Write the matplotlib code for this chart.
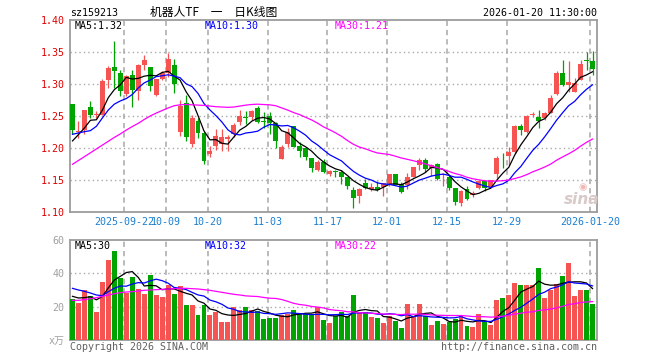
import matplotlib
matplotlib.use("Agg")
import matplotlib.pyplot as plt
import numpy as np
import pandas as pd

plt.rcParams['font.family'] = ['DejaVu Sans Mono', 'Noto Sans CJK SC']
plt.rcParams['lines.scale_dashes'] = False

# ---------------- data ----------------
tick_idx = [9, 16, 23, 33, 43, 53, 63, 73, 87]
tick_labels = ['2025-09-22', '10-09', '10-20', '11-03', '11-17',
               '12-01', '12-15', '12-29', '2026-01-20']

opens = [1.269, 1.2255, 1.228, 1.2646, 1.2516, 1.2526, 1.3073, 1.3271, 1.3177, 1.2849,
         1.3151, 1.2901, 1.3307, 1.3271, 1.2839, 1.3083, 1.318, 1.330, 1.226, 1.2708,
         1.2068, 1.2432, 1.224, 1.1911, 1.2036, 1.2068, 1.2146, 1.2219, 1.2411, 1.2485,
         1.2495, 1.2635, 1.2422, 1.2505, 1.2401, 1.1833, 1.2068, 1.2349, 1.2036, 1.201,
         1.1854, 1.1661, 1.1786, 1.1594, 1.1633, 1.1635, 1.1547, 1.1349, 1.1255, 1.1453,
         1.1365, 1.1401, 1.1401, 1.1437, 1.1599, 1.1437, 1.1427, 1.1557, 1.1734, 1.1823,
         1.1693, 1.1755, 1.1578, 1.1547, 1.138, 1.114, 1.137, 1.1266, 1.138, 1.1484,
         1.1401, 1.1599, 1.1854, 1.188, 1.1943, 1.2344, 1.2255, 1.2516, 1.249, 1.2474,
         1.2552, 1.2849, 1.3177, 1.2995, 1.288, 1.3073, 1.3375, 1.3365]
highs = [1.270, 1.242, 1.260, 1.2734, 1.259, 1.3083, 1.3281, 1.3682, 1.3229, 1.315,
         1.3229, 1.331, 1.3453, 1.3271, 1.3083, 1.320, 1.349, 1.339, 1.276, 1.2833,
         1.2526, 1.247, 1.226, 1.203, 1.2297, 1.2297, 1.2208, 1.2391, 1.2599, 1.2583,
         1.260, 1.2661, 1.2573, 1.2573, 1.2417, 1.2047, 1.2313, 1.2349, 1.2104, 1.2026,
         1.1854, 1.181, 1.1828, 1.166, 1.1661, 1.1661, 1.1547, 1.1401, 1.1375, 1.1516,
         1.1453, 1.1495, 1.1453, 1.1599, 1.1599, 1.1479, 1.162, 1.1714, 1.1849, 1.1849,
         1.176, 1.177, 1.1615, 1.1578, 1.138, 1.1354, 1.1406, 1.1328, 1.151, 1.15,
         1.1505, 1.1875, 1.1927, 1.2016, 1.236, 1.238, 1.2526, 1.2568, 1.2594, 1.2568,
         1.2828, 1.3203, 1.3375, 1.3359, 1.3099, 1.3385, 1.35, 1.3516]
lows = [1.223, 1.216, 1.222, 1.2474, 1.2474, 1.2526, 1.2943, 1.2943, 1.2823, 1.282,
        1.264, 1.276, 1.3229, 1.289, 1.2823, 1.3073, 1.311, 1.287, 1.2187, 1.212,
        1.2016, 1.2161, 1.176, 1.186, 1.1974, 1.1963, 1.1963, 1.2182, 1.2365, 1.238,
        1.2443, 1.2391, 1.2313, 1.2224, 1.200, 1.1833, 1.2026, 1.2016, 1.187, 1.1818,
        1.1635, 1.165, 1.162, 1.156, 1.1557, 1.1443, 1.1365, 1.1073, 1.114, 1.1359,
        1.1339, 1.1333, 1.126, 1.1417, 1.1427, 1.1297, 1.1365, 1.1547, 1.1667, 1.163,
        1.1573, 1.151, 1.1417, 1.1354, 1.112, 1.1094, 1.1198, 1.124, 1.137, 1.1328,
        1.14, 1.1536, 1.1693, 1.1745, 1.1927, 1.2214, 1.224, 1.2484, 1.2318, 1.2448,
        1.2552, 1.2828, 1.2969, 1.288, 1.288, 1.3073, 1.3229, 1.3151]
closes = [1.2291, 1.2276, 1.2594, 1.2526, 1.2542, 1.3047, 1.3255, 1.3214, 1.2901, 1.3125,
          1.2917, 1.3307, 1.3385, 1.2969, 1.3083, 1.318, 1.340, 1.301, 1.2656, 1.2177,
          1.2474, 1.224, 1.1807, 1.1964, 1.2193, 1.2182, 1.2182, 1.2365, 1.2505, 1.2478,
          1.2589, 1.2417, 1.2417, 1.2391, 1.212, 1.2026, 1.226, 1.2016, 1.1958, 1.1859,
          1.1687, 1.1792, 1.1635, 1.1651, 1.1628, 1.1547, 1.1411, 1.1229, 1.1365, 1.1385,
          1.1401, 1.1349, 1.1453, 1.1599, 1.1427, 1.1323, 1.1557, 1.1708, 1.1823, 1.1682,
          1.1734, 1.1526, 1.1594, 1.138, 1.1156, 1.1328, 1.1214, 1.1302, 1.1484, 1.138,
          1.1505, 1.1849, 1.1844, 1.1943, 1.2344, 1.2286, 1.25, 1.2542, 1.2432, 1.2552,
          1.2786, 1.3177, 1.2995, 1.3036, 1.3021, 1.3318, 1.3365, 1.324]
volumes = [24.6, 22.4, 30, 26.4, 17, 35, 48, 53.6, 37.4, 28.4,
           37.8, 30.6, 27.8, 39.2, 27.2, 26, 33, 27.8, 32.4, 21,
           21, 15, 21, 15, 17, 11, 11, 19.8, 18, 19.8,
           18, 17.4, 12.6, 13.2, 13.2, 15, 15.8, 18, 15.6, 15.8,
           15.4, 19.8, 12, 10.4, 14.4, 17, 14.4, 27, 16, 17,
           13.8, 13.2, 10.4, 14.4, 11.6, 7.4, 21.8, 14.4, 21.8, 14.4,
           9, 11.6, 9.6, 11, 12.6, 14.4, 8.4, 7.8, 15.6, 11.6,
           9, 24.2, 25.2, 27, 34.4, 33, 33, 33, 43.2, 25.2,
           30, 33.6, 38.4, 46.2, 26.4, 30, 30, 21.6]

price_ma5_head = [1.2115, 1.2214, 1.2318, 1.2438]
price_ma10_head = [1.2219, 1.224, 1.226, 1.2276, 1.2344, 1.2474, 1.2599, 1.2690, 1.2740]
price_ma30_head = [1.175, 1.181, 1.187, 1.193, 1.199, 1.205, 1.211, 1.217, 1.2225, 1.2285,
                   1.234, 1.239, 1.245, 1.2505, 1.255, 1.259, 1.263, 1.2665, 1.268, 1.2685,
                   1.268, 1.2675, 1.267, 1.266, 1.265, 1.2645, 1.264, 1.2645, 1.266]
vol_ma5_head = [26.2, 25.2, 25.4, 26.0]
vol_ma10_head = [31, 30, 29.2, 28.2, 27, 26.6, 29, 31, 32.4]
vol_ma30_head = [23.8, 23.8, 24.2, 24.8, 25.4, 26.2, 27, 27.8, 28.4, 28.8,
                 29, 29.4, 29.8, 30, 30.2, 30.4, 30.6, 30.8, 31, 31,
                 30.8, 30.6, 30.2, 29.8, 29.2, 28.6, 28, 27.4, 27]

ma_labels_price = ['MA5:1.32', 'MA10:1.30', 'MA30:1.21']
ma_labels_vol = ['MA5:30', 'MA10:32', 'MA30:22']
price_ticks = [1.10, 1.15, 1.20, 1.25, 1.30, 1.35, 1.40]
vol_ticks = [0, 20, 40, 60]
vol_tick_labels = ['x万', '20', '40', '60']

# ---------------- helpers ----------------
def moving_average(values, n, head):
    s = pd.Series(values, dtype=float).rolling(n).mean().to_numpy()
    s[:n - 1] = head
    return s

RED = '#f65353'
GREEN = '#00a400'
GRID = '#a8a8a8'
SPINE = '#9c9c9c'
MA_COLORS = ['#000000', '#0000ff', '#ff00ff']

W, H = 660, 360
fig = plt.figure(figsize=(W / 100, H / 100), dpi=100)
ax = fig.add_axes([70 / W, 1 - 212.3 / H, 527 / W, 192 / H])
axv = fig.add_axes([70 / W, 1 - 340 / H, 527 / W, 100 / H])

n = len(closes)
x = np.arange(n)
o = np.array(opens); c = np.array(closes)
hi = np.array(highs); lo = np.array(lows)
up = c > o
colors = [RED if u else GREEN for u in up]
xlim = (-2.5 / 6, 87 + 4.5 / 6)
grid_x = [i - 0.35 for i in tick_idx]

for a in (ax, axv):
    a.set_xlim(*xlim)
    for gx in grid_x:
        a.axvline(gx, color=GRID, lw=1.1, ls=(0, (3.8, 2.9)), zorder=1)
    for s in a.spines.values():
        s.set_color(SPINE)
        s.set_linewidth(1.3)
    a.tick_params(length=0)

# price panel
ax.set_ylim(1.10, 1.40)
for yv in price_ticks[1:-1]:
    ax.axhline(yv, color=GRID, lw=1.0, ls=(0, (1, 2.2)), zorder=1)
ax.vlines(x, lo, hi, colors=colors, lw=0.9, zorder=3)
body_h = np.maximum(np.abs(c - o), 0.0012)
ax.bar(x, body_h, bottom=np.minimum(o, c), width=0.83, color=colors, lw=0, zorder=4)
pm = [moving_average(closes, 5, price_ma5_head),
      moving_average(closes, 10, price_ma10_head),
      moving_average(closes, 30, price_ma30_head)]
for m, col in zip(pm, MA_COLORS):
    ax.plot(x, m, color=col, lw=0.9, zorder=5)
ax.set_yticks(price_ticks)
ax.set_yticklabels(['%.2f' % t for t in price_ticks], color='#e00000', fontsize=7.2)
ax.tick_params(axis='y', pad=4)
ax.set_xticks(grid_x)
ax.set_xticklabels(tick_labels, color='#1b7fd0', fontsize=7.2)
ax.tick_params(axis='x', pad=3.5)

# volume panel
axv.set_ylim(0, 60)
for yv in [20, 40]:
    axv.axhline(yv, color=GRID, lw=1.0, ls=(0, (1, 2.2)), zorder=1)
axv.bar(x, volumes, width=0.83, color=colors, lw=0, zorder=3)
vm = [moving_average(volumes, 5, vol_ma5_head),
      moving_average(volumes, 10, vol_ma10_head),
      moving_average(volumes, 30, vol_ma30_head)]
for m, col in zip(vm, MA_COLORS):
    axv.plot(x, m, color=col, lw=0.9, zorder=5)
axv.set_yticks(vol_ticks)
axv.set_yticklabels(vol_tick_labels, color='#a0a0a0', fontsize=7.2)
axv.tick_params(axis='y', pad=4)
axv.set_xticks([])

# MA legends
label_x = [5, 135, 265]
for lab, lx, col in zip(ma_labels_price, label_x, MA_COLORS):
    ax.annotate(lab, xy=(0, 1), xycoords='axes fraction', xytext=(lx * 0.72, -4.3),
                textcoords='offset points', color=col, fontsize=7.2, va='center', ha='left')
for lab, lx, col in zip(ma_labels_vol, label_x, MA_COLORS):
    axv.annotate(lab, xy=(0, 1), xycoords='axes fraction', xytext=(lx * 0.72, -4.3),
                 textcoords='offset points', color=col, fontsize=7.2, va='center', ha='left')

# header / footer
fig.text(70 / W, 1 - 13.3 / H, 'sz159213', fontsize=7.2, color='black', va='center', ha='left')
fig.text(150 / W, 1 - 12.5 / H, '机器人TF\u3000一\u3000日K线图', fontsize=8.5, color='black',
         va='center', ha='left', family=['Noto Sans CJK SC', 'DejaVu Sans'])
fig.text(597 / W, 1 - 13.3 / H, '2026-01-20 11:30:00', fontsize=7.2, color='black',
         va='center', ha='right')
fig.text(70 / W, 1 - 346.5 / H, 'Copyright 2026 SINA.COM', fontsize=7.2, color='#606060',
         va='center', ha='left')
fig.text(597 / W, 1 - 346.5 / H, 'http://finance.sina.com.cn', fontsize=7.2, color='#606060',
         va='center', ha='right')
# watermark
fig.text(582 / W, 1 - 199 / H, 'sina', fontsize=11, color='#d9c9c9', style='italic',
         weight='bold', va='center', ha='center', family='DejaVu Sans', zorder=0)
fig.text(583 / W, 1 - 187 / H, '◉', fontsize=7, color='#f0b8b8', va='center', ha='center',
         family='DejaVu Sans', zorder=0)

fig.savefig('out.png', dpi=100)
